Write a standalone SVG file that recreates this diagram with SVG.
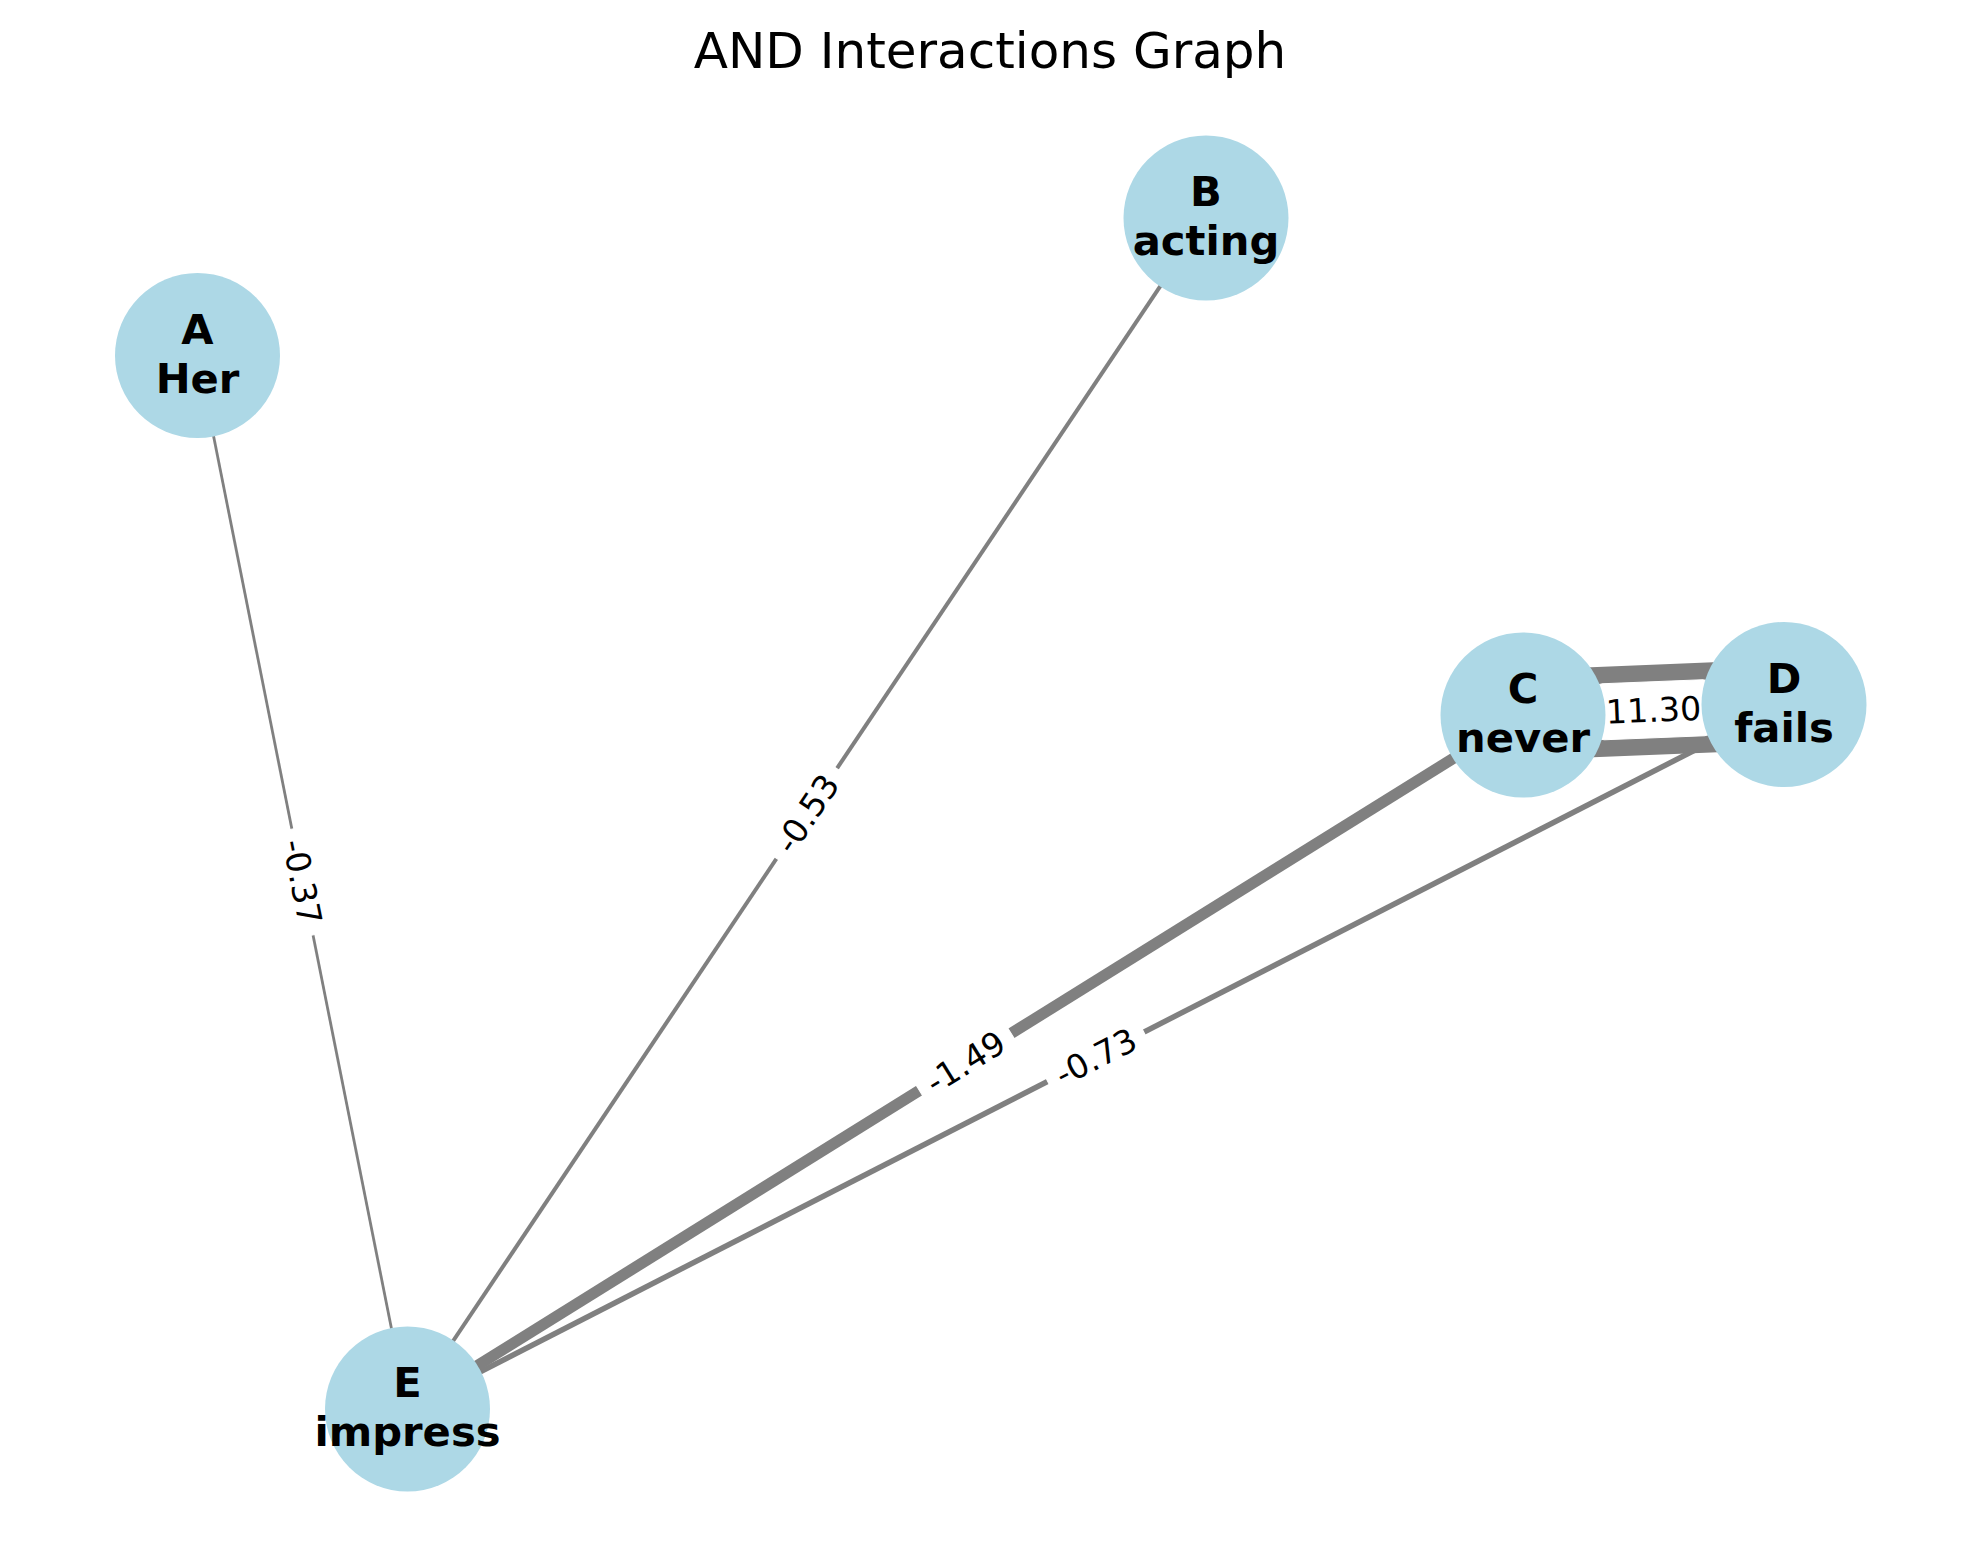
<svg xmlns="http://www.w3.org/2000/svg" width="1980" height="1563" viewBox="0 0 1980 1563">
  <style>
    .edge { stroke: #808080; stroke-linecap: butt; fill: none; }
    .node circle { fill: #ADD8E6; }
    .node text { font-family: "DejaVu Sans", "Liberation Sans", sans-serif; font-weight: bold; font-size: 41.7px; fill: #000; text-anchor: middle; }
    .elabel rect { fill: #ffffff; stroke: #ffffff; }
    .elabel text { font-family: "DejaVu Sans", "Liberation Sans", sans-serif; font-size: 33.3px; fill: #000; text-anchor: middle; }
    .title { font-family: "DejaVu Sans", "Liberation Sans", sans-serif; font-size: 50px; fill: #000; text-anchor: middle; }
  </style>
  <rect width="1980" height="1563" fill="#ffffff"/>

  <text class="title" x="990" y="68">AND Interactions Graph</text>

  <!-- connectors: line width scales with |weight| -->
  <g id="connectors">
    <line class="edge" x1="1523" y1="715" x2="1784" y2="704.5" stroke-width="90"/>
    <line class="edge" x1="197.5" y1="355.5" x2="407.5" y2="1409" stroke-width="2.8"/>
    <line class="edge" x1="1206" y1="218" x2="407.5" y2="1409" stroke-width="4"/>
    <line class="edge" x1="1523" y1="715" x2="407.5" y2="1409" stroke-width="11.2"/>
    <line class="edge" x1="1784" y1="704.5" x2="407.5" y2="1409" stroke-width="5.5"/>

    <g class="elabel" transform="translate(302.5 882) rotate(78.7)">
      <rect x="-54" y="-28" width="108" height="56" rx="8"/>
      <text x="0" y="12">-0.37</text>
    </g>
    <g class="elabel" transform="translate(806.75 813.5) rotate(-56.2)">
      <rect x="-54" y="-28" width="108" height="56" rx="8"/>
      <text x="0" y="12">-0.53</text>
    </g>
    <g class="elabel" transform="translate(965.25 1062) rotate(-31.9)">
      <rect x="-54" y="-28" width="108" height="56" rx="8"/>
      <text x="0" y="12">-1.49</text>
    </g>
    <g class="elabel" transform="translate(1095.75 1056.75) rotate(-27.1)">
      <rect x="-54" y="-28" width="108" height="56" rx="8"/>
      <text x="0" y="12">-0.73</text>
    </g>
    <g class="elabel" transform="translate(1653.5 709.75) rotate(-2.3)">
      <rect x="-58" y="-28" width="116" height="56" rx="8"/>
      <text x="0" y="12">11.30</text>
    </g>
  </g>

  <g id="node-A" class="node">
    <circle cx="197.5" cy="355.5" r="82.5"/>
    <text x="197.5" y="344">A</text>
    <text x="197.5" y="393">Her</text>
  </g>
  <g id="node-B" class="node">
    <circle cx="1206" cy="218" r="82.5"/>
    <text x="1206" y="206">B</text>
    <text x="1206" y="255">acting</text>
  </g>
  <g id="node-C" class="node">
    <circle cx="1523" cy="715" r="82.5"/>
    <text x="1523" y="703">C</text>
    <text x="1523" y="752">never</text>
  </g>
  <g id="node-D" class="node">
    <circle cx="1784" cy="704.5" r="82.5"/>
    <text x="1784" y="692.5">D</text>
    <text x="1784" y="741.5">fails</text>
  </g>
  <g id="node-E" class="node">
    <circle cx="407.5" cy="1409" r="82.5"/>
    <text x="407.5" y="1397">E</text>
    <text x="407.5" y="1446">impress</text>
  </g>
</svg>
